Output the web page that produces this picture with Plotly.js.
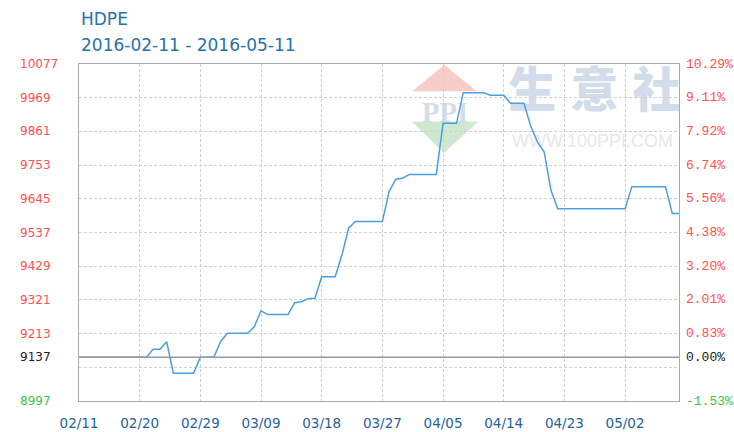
<!DOCTYPE html>
<html><head><meta charset="utf-8">
<script src="https://cdn.plot.ly/plotly-3.0.1.min.js"></script>
<style>html,body{margin:0;padding:0;background:#fff}#chart{width:734px;height:432px}</style>
</head><body><div id="chart"></div>
<script>
// ---- data ----
const titleLine1 = 'HDPE';
const titleLine2 = '2016-02-11 - 2016-05-11';
const startDate = '2016-02-11';
const prices = [
  9137,9137,9137,9137,9137,9137,9137,9137,9137,9137,9137,
  9163,9163,9187,9086,9086,9086,9086,9137,9137,9137,
  9187,9214,9214,9214,9214,9235,9286,9274,9274,9274,
  9274,9312,9315,9325,9326,9395,9395,9395,9465,9551,
  9572,9572,9572,9572,9572,9668,9708,9711,9723,9723,
  9723,9723,9723,9887,9887,9887,9985,9985,9985,9985,
  9977,9977,9977,9951,9951,9951,9878,9827,9795,9673,
  9613,9613,9613,9613,9613,9613,9613,9613,9613,9613,
  9613,9684,9684,9684,9684,9684,9684,9598,9598
];
const baseValue = 9137;
const gridValues = [8997,9105,9213,9321,9429,9537,9645,9753,9861,9969,10077];
const leftTickValues = [10077,9969,9861,9753,9645,9537,9429,9321,9213,9137,8997];
const leftTickLabels = ['10077','9969','9861','9753','9645','9537','9429','9321','9213','9137','8997'];
const rightTickLabels = ['10.29%','9.11%','7.92%','6.74%','5.56%','4.38%','3.20%','2.01%','0.83%','0.00%','-1.53%'];
const xTickDates = ['2016-02-11','2016-02-20','2016-02-29','2016-03-09','2016-03-18','2016-03-27','2016-04-05','2016-04-14','2016-04-23','2016-05-02'];
const xTickLabels = ['02/11','02/20','02/29','03/09','03/18','03/27','04/05','04/14','04/23','05/02'];

// ---- build ----
function addDays(s, n){ const d = new Date(s + 'T00:00:00Z'); d.setUTCDate(d.getUTCDate() + n); return d.toISOString().slice(0,10); }
const dates = prices.map((_, i) => addDays(startDate, i));

const RED = '#ff4f4f', GREEN = '#3fc43f', BLACK = '#222222';
function colorFor(v){ return v > baseValue ? RED : (v < baseValue ? GREEN : BLACK); }

const annotations = [];
leftTickValues.forEach((v, i) => {
  annotations.push({xref:'paper', yref:'y', x:-0.1017, y:v, xanchor:'left', yanchor:'middle',
    text:leftTickLabels[i], showarrow:false, font:{family:'DejaVu Sans', size:12, color:colorFor(v)}});
  annotations.push({xref:'paper', yref:'y', x:1.0083, y:v, xanchor:'left', yanchor:'middle',
    text:rightTickLabels[i], showarrow:false, font:{family:'Liberation Mono', size:13, color:colorFor(v)}});
});
annotations.push({xref:'paper', yref:'paper', x:0.0, y:1.135, xanchor:'left', yanchor:'middle',
  text:titleLine1, showarrow:false, font:{family:'DejaVu Sans', size:17, color:'#2873a6'}});
annotations.push({xref:'paper', yref:'paper', x:0.0, y:1.056, xanchor:'left', yanchor:'middle',
  text:titleLine2, showarrow:false, font:{family:'DejaVu Sans', size:17, color:'#2873a6'}});

function wmText(text, x0, x1, y0, y1, font){
  return {type:'rect', xref:'paper', yref:'paper', x0:x0, x1:x1, y0:y0, y1:y1, layer:'below',
    line:{width:0}, fillcolor:'rgba(0,0,0,0)',
    label:{text:text, textposition:'middle center', padding:0, font:font}};
}
const cjkFont = {family:'Noto Sans CJK SC', size:48, color:'#d3dcea', weight:900};
const shapes = [
  {type:'line', xref:'paper', yref:'y', x0:0, x1:1, y0:baseValue, y1:baseValue, line:{color:'#9a9a9a', width:1.5}},
  {type:'path', xref:'paper', yref:'paper', layer:'below', path:'M0.5555,0.919 L0.6088,0.997 L0.6628,0.919 Z', fillcolor:'#f6cdc8', line:{width:0}},
  {type:'path', xref:'paper', yref:'paper', layer:'below', path:'M0.555,0.8288 L0.665,0.8288 L0.6083,0.7359 Z', fillcolor:'#cfe9d1', line:{width:0}},
  wmText('PPI', 0.5567, 0.6633, 0.8398, 0.8932, {family:'Liberation Serif', size:29, color:'#d3dcea', weight:700}),
  wmText('生', 0.718, 0.793, 0.8487, 0.973, cjkFont),
  wmText('意', 0.8217, 0.8967, 0.8487, 0.973, cjkFont),
  wmText('社', 0.9250, 1.0000, 0.8487, 0.973, cjkFont),
  wmText('WWW.100PPI.COM', 0.7183, 0.9933, 0.7567, 0.7953, {family:'Liberation Sans', size:18, color:'#e8e8e8'})
];

const trace = {x:dates, y:prices, type:'scatter', mode:'lines', line:{color:'#4aa0dc', width:1.5}, hoverinfo:'x+y'};

const layout = {
  width:734, height:432, margin:{l:79, r:55, t:64, b:31},
  paper_bgcolor:'#fff', plot_bgcolor:'#fff', showlegend:false,
  xaxis:{type:'date', range:[dates[0], dates[dates.length-1]], tickvals:xTickDates, ticktext:xTickLabels,
    showgrid:true, gridcolor:'#d0d0d0', griddash:'3px,2px', gridwidth:1,
    showline:true, linecolor:'#aaaaaa', linewidth:1, mirror:true, ticks:'', zeroline:false,
    ticklabelstandoff:10, tickfont:{family:'DejaVu Sans', size:13.5, color:'#1f6396'}, fixedrange:true},
  yaxis:{range:[8997,10077], tickvals:gridValues, showticklabels:false,
    showgrid:true, gridcolor:'#d0d0d0', griddash:'3px,2px', gridwidth:1,
    showline:true, linecolor:'#aaaaaa', linewidth:1, mirror:true, ticks:'', zeroline:false, fixedrange:true},
  annotations:annotations, shapes:shapes
};
Plotly.newPlot('chart', [trace], layout, {displayModeBar:false, staticPlot:true});
</script></body></html>
